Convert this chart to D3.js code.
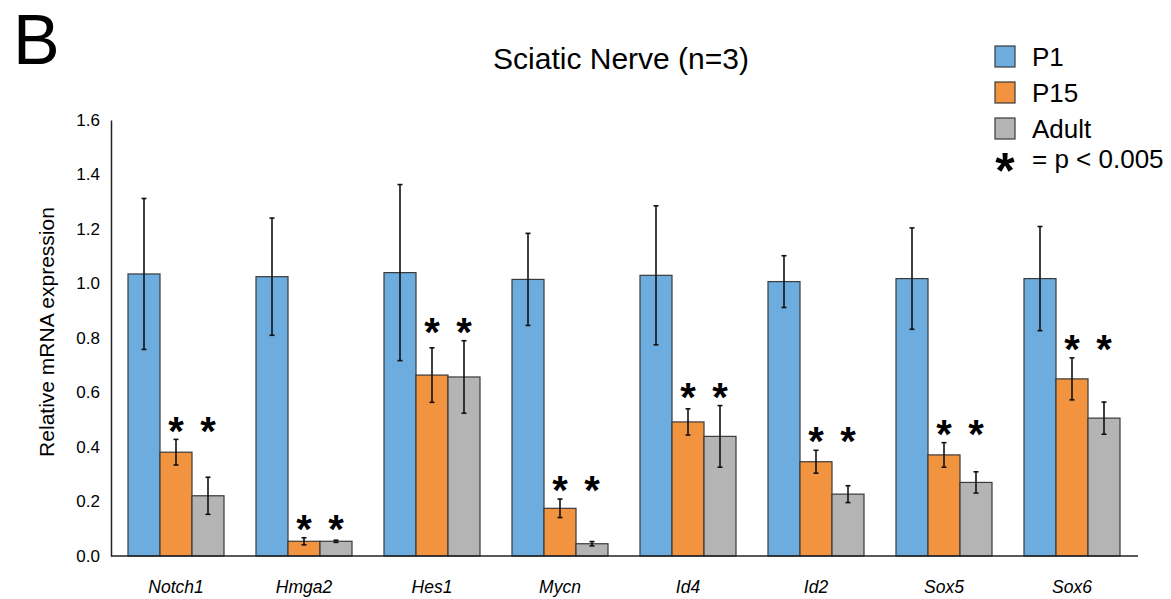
<!DOCTYPE html>
<html>
<head>
<meta charset="utf-8">
<script src="https://cdn.jsdelivr.net/npm/d3@7"></script>
<style>
  body { margin: 0; background: #fff; }
  svg text { font-family: "Liberation Sans", Arial, sans-serif; fill: #000; }
</style>
</head>
<body>
<svg id="chart" width="1171" height="599"></svg>
<script>
// Gene categories along the x axis
const genes = ["Notch1", "Hmga2", "Hes1", "Mycn", "Id4", "Id2", "Sox5", "Sox6"];
const stages = ["P1", "P15", "Adult"];

// Mean relative expression per stage
const p1Values    = [1.035, 1.025, 1.040, 1.015, 1.030, 1.007, 1.018, 1.018];
const p15Values   = [0.381, 0.054, 0.664, 0.175, 0.492, 0.346, 0.371, 0.650];
const adultValues = [0.221, 0.054, 0.657, 0.045, 0.439, 0.227, 0.270, 0.506];

// Error bar half-lengths per stage
const p1Errors    = [0.277, 0.215, 0.323, 0.169, 0.255, 0.095, 0.186, 0.191];
const p15Errors   = [0.047, 0.013, 0.100, 0.034, 0.048, 0.042, 0.045, 0.077];
const adultErrors = [0.068, 0.004, 0.133, 0.008, 0.113, 0.031, 0.039, 0.059];

// Significance (p < 0.005) markers vs P1
const p15Significant   = [true, true, true, true, true, true, true, true];
const adultSignificant = [true, true, true, true, true, true, true, true];

const yTicks = [0.0, 0.2, 0.4, 0.6, 0.8, 1.0, 1.2, 1.4, 1.6];
const colors = ["#6cacdf", "#f2933f", "#b3b4b3"];

const values = [p1Values, p15Values, adultValues];
const errors = [p1Errors, p15Errors, adultErrors];

const svg = d3.select("#chart");

const x0 = d3.scaleBand().domain(genes).range([112, 1136]).paddingInner(0.25).paddingOuter(0.125);
const x1 = d3.scaleBand().domain(stages).range([0, x0.bandwidth()]);
const y = d3.scaleLinear().domain([0, 1.6]).range([556, 120]);

// Bars
const rows = [];
genes.forEach((g, i) => stages.forEach((s, j) => {
  rows.push({ gene: g, stage: s, k: j, value: values[j][i], err: errors[j][i] });
}));

const g = svg.append("g");
g.selectAll("rect.bar").data(rows).join("rect")
  .attr("class", "bar")
  .attr("x", d => x0(d.gene) + x1(d.stage))
  .attr("y", d => y(d.value))
  .attr("width", x1.bandwidth())
  .attr("height", d => y(0) - y(d.value))
  .attr("fill", d => colors[d.k])
  .attr("stroke", "#3a3a3a")
  .attr("stroke-width", 1.2);

// Error bars
const eb = g.selectAll("g.err").data(rows).join("g").attr("class", "err")
  .attr("transform", d => `translate(${x0(d.gene) + x1(d.stage) + x1.bandwidth() / 2},0)`);
eb.append("line")
  .attr("y1", d => y(d.value + d.err)).attr("y2", d => y(d.value - d.err))
  .attr("stroke", "#111").attr("stroke-width", 1.6);
eb.append("line")
  .attr("x1", -2.5).attr("x2", 2.5)
  .attr("y1", d => y(d.value + d.err)).attr("y2", d => y(d.value + d.err))
  .attr("stroke", "#111").attr("stroke-width", 1.6);
eb.append("line")
  .attr("x1", -2.5).attr("x2", 2.5)
  .attr("y1", d => y(d.value - d.err)).attr("y2", d => y(d.value - d.err))
  .attr("stroke", "#111").attr("stroke-width", 1.6);

// Significance asterisks above the P15 and Adult bars of each gene
const starSize = 40;
genes.forEach((gene, i) => {
  const top = Math.min(y(p15Values[i] + p15Errors[i]), y(adultValues[i] + adultErrors[i]));
  const cy = top - 18;
  [[p15Significant[i], "P15"], [adultSignificant[i], "Adult"]].forEach(([sig, st]) => {
    if (!sig) return;
    g.append("text")
      .attr("x", x0(gene) + x1(st) + x1.bandwidth() / 2)
      .attr("y", cy + starSize * 0.58)
      .attr("text-anchor", "middle")
      .attr("font-size", starSize)
      .attr("font-weight", "bold")
      .text("*");
  });
});

// Axes
const yAxis = d3.axisLeft(y).tickValues(yTicks).tickFormat(d3.format(".1f")).tickSize(0).tickPadding(11);
const ya = svg.append("g").attr("transform", "translate(111,0)").call(yAxis);
ya.select(".domain").attr("stroke", "#222").attr("stroke-width", 1.5);
ya.selectAll("text").attr("font-size", 17).attr("font-family", "Liberation Sans, Arial, sans-serif").attr("fill", "#000");

const xAxis = d3.axisBottom(x0).tickSize(0).tickPadding(25);
const xa = svg.append("g").attr("transform", "translate(0,556)").call(xAxis);
xa.select(".domain").attr("stroke", "#222").attr("stroke-width", 1.5).attr("d", "M111,0H1138");
xa.selectAll("text").attr("font-size", 17.5).attr("font-style", "italic")
  .attr("font-family", "Liberation Sans, Arial, sans-serif").attr("fill", "#000");

// Y axis title
svg.append("text")
  .attr("transform", "translate(54,332) rotate(-90)")
  .attr("text-anchor", "middle")
  .attr("font-size", 21)
  .text("Relative mRNA expression");

// Chart title
svg.append("text")
  .attr("x", 621).attr("y", 69)
  .attr("text-anchor", "middle")
  .attr("font-size", 30)
  .text("Sciatic Nerve (n=3)");

// Panel letter
svg.append("text")
  .attr("x", 13).attr("y", 64)
  .attr("font-size", 70)
  .text("B");

// Legend
const legend = svg.append("g").attr("transform", "translate(995,46)");
stages.forEach((s, j) => {
  const row = legend.append("g").attr("transform", `translate(0,${j * 36})`);
  row.append("rect").attr("width", 20).attr("height", 21)
    .attr("fill", colors[j]).attr("stroke", "#3a3a3a").attr("stroke-width", 1.2);
  row.append("text").attr("x", 37).attr("y", 20).attr("font-size", 26).text(s);
});
legend.append("text").attr("x", 10).attr("y", 113 + 50 * 0.58)
  .attr("text-anchor", "middle").attr("font-size", 50).attr("font-weight", "bold").text("*");
legend.append("text").attr("x", 37).attr("y", 122).attr("font-size", 26).text("= p < 0.005");
</script>
</body>
</html>
